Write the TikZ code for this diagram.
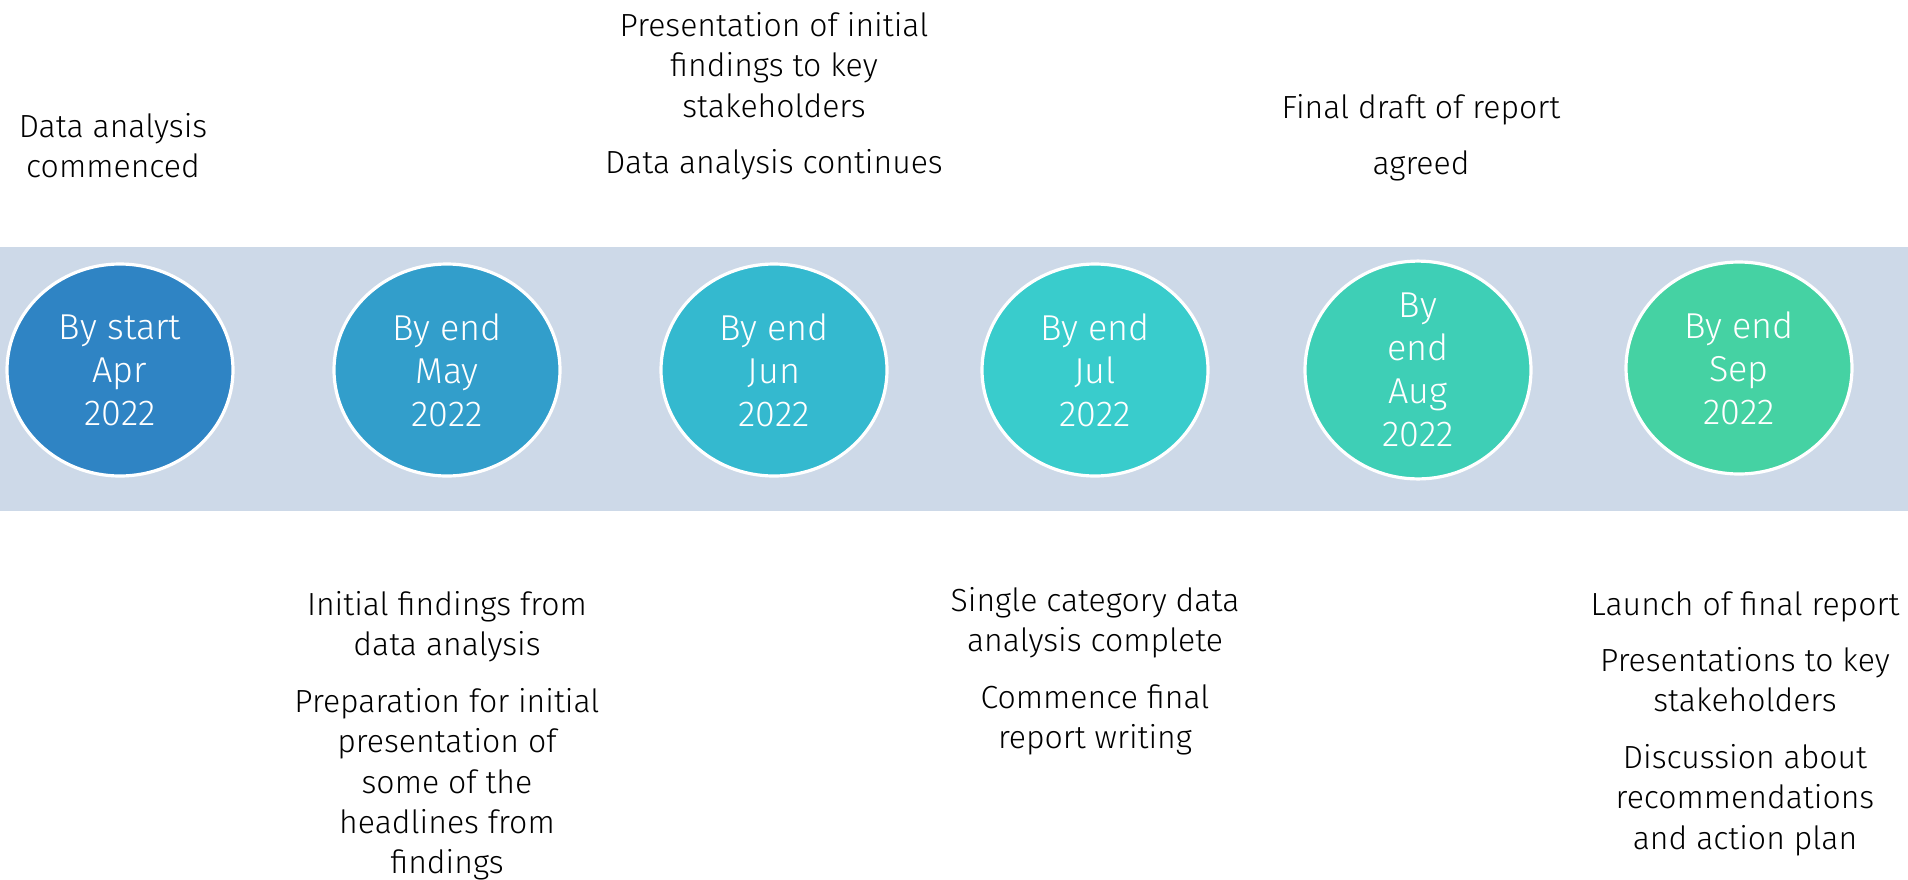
\documentclass[tikz,border=0pt]{standalone}
\usepackage{fontspec}
\setmainfont{Fira Sans Light}
\usetikzlibrary{shapes.geometric}

\definecolor{band}{HTML}{CDD9E8}
\definecolor{apr}{HTML}{2F84C4}
\definecolor{may}{HTML}{329ECB}
\definecolor{jun}{HTML}{34B9CF}
\definecolor{jul}{HTML}{39CCCC}
\definecolor{aug}{HTML}{3ECFB6}
\definecolor{sep}{HTML}{45D2A3}

\begin{document}
\begin{tikzpicture}[x=0.5pt,y=-0.5pt,
    stage/.style={ellipse,draw=white,line width=1.6pt,minimum width=113pt,minimum height=106pt,
        inner sep=0pt,text=white,align=center,font=\fontsize{18}{21.5}\selectfont},
    note/.style={anchor=north,align=center,inner sep=0pt,font=\fontsize{16}{20.2}\selectfont}]
\useasboundingbox (0,0) rectangle (1908,879);
%\draw[red] (0,0) rectangle (1908,879);

% the band behind the months
\fill[band] (0,247) rectangle (1908,511);

% milestones
\node[stage,fill=apr] (m1) at (120,370)  {By start\\Apr\\2022};
\node[stage,fill=may] (m2) at (447,370)  {By end\\May\\2022};
\node[stage,fill=jun] (m3) at (774,370)  {By end\\Jun\\2022};
\node[stage,fill=jul] (m4) at (1095,370) {By end\\Jul\\2022};
\node[stage,fill=aug] (m5) at (1418,370) {By\\end\\Aug\\2022};
\node[stage,fill=sep] (m6) at (1739,368) {By end\\Sep\\2022};

% notes above the band
\node[note] (a) at (113,113) {Data analysis\\commenced};
\node[note] (c) at (774,12)  {Presentation of initial\\findings to key\\stakeholders\\[8pt]Data analysis continues};
\node[note] (e) at (1421,94) {Final draft of report\\[8pt]agreed};

% notes below the band
\node[note] (b) at (447,591)  {Initial findings from\\data analysis\\[8pt]Preparation for initial\\presentation of\\some of the\\headlines from\\findings};
\node[note] (d) at (1095,587) {Single category data\\analysis complete\\[8pt]Commence final\\report writing};
\node[note] (f) at (1745,591) {Launch of final report\\[8pt]Presentations to key\\stakeholders\\[8pt]Discussion about\\recommendations\\and action plan};
\end{tikzpicture}
\end{document}
